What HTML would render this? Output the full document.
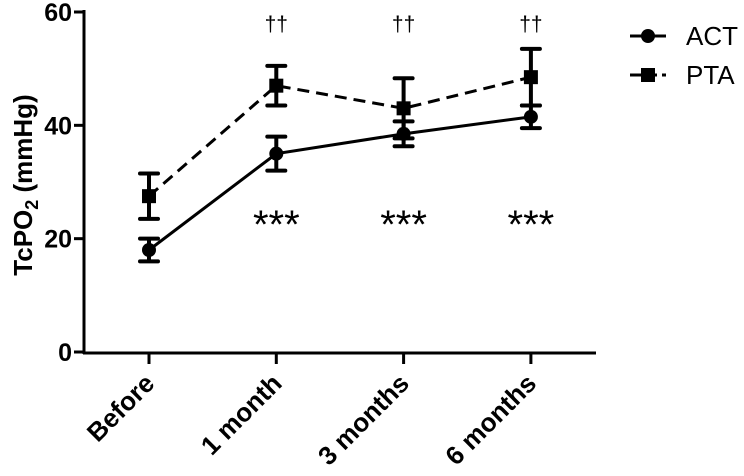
<!DOCTYPE html>
<html><head><meta charset="utf-8"><style>
body{margin:0;background:#fff}
svg{font-family:"Liberation Sans",Arial,sans-serif}
</style></head><body>
<svg id="c" width="744" height="471" viewBox="0 0 744 471"></svg>
<script>
const categories=["Before","1 month","3 months","6 months"];
const actMean=[18,35,38.5,41.5];
const actErr=[2,3,2.2,2];
const ptaMean=[27.5,47,43,48.5];
const ptaErr=[4,3.5,5.3,5];
const yTicks=[0,20,40,60];
const stars=["","***","***","***"];
const daggers=["","††","††","††"];
const NS="http://www.w3.org/2000/svg";
const svg=document.getElementById("c");
function X(i){return 149+i*127.3;}
function Y(v){return 352-v*340/60;}
function el(t,a,p){const e=document.createElementNS(NS,t);for(const k in a)e.setAttribute(k,a[k]);(p||svg).appendChild(e);return e;}
let e;
e=el("line",{x1:84,y1:10,x2:84,y2:354,stroke:"#000","stroke-width":3});


e=el("line",{x1:83,y1:353,x2:596,y2:353,stroke:"#000","stroke-width":3});


yTicks.forEach(v=>{
 el("line",{x1:74,y1:Y(v),x2:84,y2:Y(v),stroke:"#000","stroke-width":3});
 const t=el("text",{x:72,y:Y(v)+9,"text-anchor":"end","font-size":25,"font-weight":"bold"});
 t.textContent=v;
 
 
});
categories.forEach((c,i)=>{
 el("line",{x1:X(i),y1:353,x2:X(i),y2:364,stroke:"#000","stroke-width":3});
 const t=el("text",{x:0,y:0,"text-anchor":"end","font-size":26,"font-weight":"bold",transform:`translate(${X(i)+7},${385}) rotate(-45)`});
 t.textContent=c;
 
 
 if(stars[i]){const s=el("text",{x:X(i),y:238,"text-anchor":"middle","font-size":40});s.textContent=stars[i];
 
 }
 if(daggers[i]){const d=el("text",{x:X(i),y:31,"text-anchor":"middle","font-size":21});d.textContent=daggers[i];
 
 }
});
const yl=el("text",{x:0,y:0,"text-anchor":"middle","font-size":26,"font-weight":"bold",transform:"translate(32,185) rotate(-90)"});
yl.innerHTML='TcPO<tspan font-size="18" dy="6">2</tspan><tspan dy="-6"> (mmHg)</tspan>';


function series(mean,err,dash,square,name){
 const g=el("g",{});
 
 
 el("polyline",{points:mean.map((v,i)=>X(i)+","+Y(v)).join(" "),fill:"none",stroke:"#000","stroke-width":3,"stroke-dasharray":dash},g);
 mean.forEach((v,i)=>{
  const x=X(i),t=Y(v+err[i]),b=Y(v-err[i]);
  el("line",{x1:x,y1:t,x2:x,y2:b,stroke:"#000","stroke-width":4},g);
  el("line",{x1:x-9,y1:t,x2:x+9,y2:t,stroke:"#000","stroke-width":4,"stroke-linecap":"round"},g);
  el("line",{x1:x-9,y1:b,x2:x+9,y2:b,stroke:"#000","stroke-width":4,"stroke-linecap":"round"},g);
  if(square)el("rect",{x:x-7,y:Y(v)-7,width:14,height:14,fill:"#000"},g);
  else el("circle",{cx:x,cy:Y(v),r:7,fill:"#000"},g);
 });
}
series(ptaMean,ptaErr,"12 7",true,"series-pta");
series(actMean,actErr,"none",false,"series-act");
function legend(y,label,square,dash,name){
 const g=el("g",{});
 
 
 el("line",{x1:630,y1:y,x2:666,y2:y,stroke:"#000","stroke-width":3,"stroke-dasharray":dash},g);
 if(square)el("rect",{x:641,y:y-7,width:14,height:14,fill:"#000"},g);else el("circle",{cx:648,cy:y,r:7,fill:"#000"},g);
 const t=el("text",{x:686,y:y+9,"font-size":26},g);t.textContent=label;
}
legend(36,"ACT",false,"none","legend-act");
legend(75,"PTA",true,"18 5 4 5","legend-pta");
</script>
</body></html>
